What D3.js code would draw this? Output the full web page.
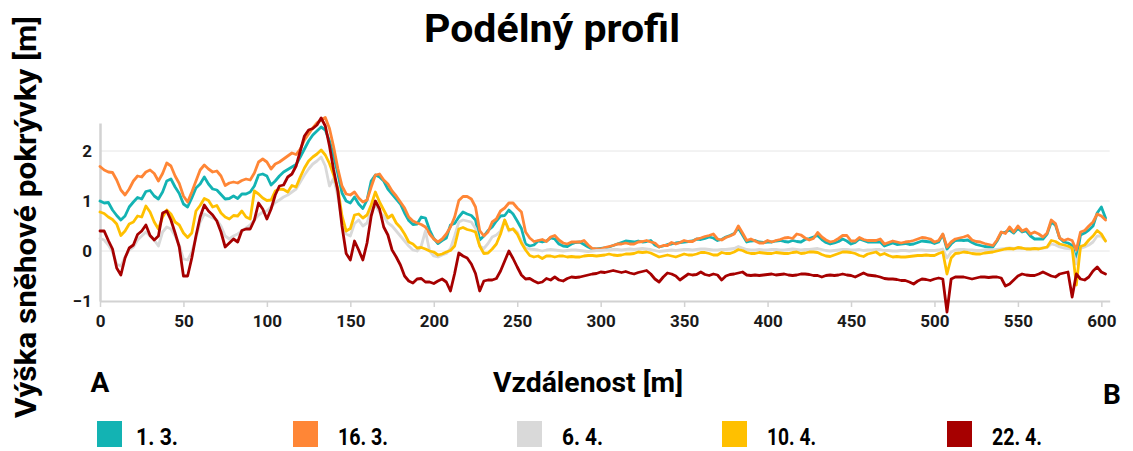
<!DOCTYPE html>
<html>
<head>
<meta charset="utf-8">
<script src="https://cdn.jsdelivr.net/npm/d3@7"></script>
<style>
  html, body { margin: 0; padding: 0; background: #fff; }
  svg { display: block; font-family: Roboto, "Noto Sans", "Liberation Sans", sans-serif; }
</style>
</head>
<body>
<svg id="chart" width="1133" height="451"></svg>
<script>
// Sampling step along the profile [m]
const STEP = 2.5;

// Snow depth [m] along the profile, one value every STEP metres (0 … 602.5 m)
const depth_01_03 = [
  1.00, 0.96, 0.97, 0.82, 0.71, 0.62, 0.70, 0.88, 0.98, 1.07,
  1.04, 1.19, 1.21, 1.10, 1.04, 1.18, 1.40, 1.44, 1.28, 1.15,
  0.94, 0.88, 1.06, 1.26, 1.34, 1.48, 1.34, 1.24, 1.22, 1.13,
  1.04, 1.05, 1.10, 1.05, 1.14, 1.14, 1.18, 1.30, 1.52, 1.54,
  1.50, 1.32, 1.40, 1.50, 1.58, 1.63, 1.68, 1.73, 1.88, 2.04,
  2.20, 2.32, 2.40, 2.48, 2.42, 2.20, 1.90, 1.55, 1.16, 1.00,
  0.96, 1.08, 0.94, 0.85, 1.02, 1.40, 1.52, 1.48, 1.40, 1.24,
  1.14, 1.04, 0.94, 0.76, 0.61, 0.53, 0.54, 0.68, 0.66, 0.42,
  0.25, 0.15, 0.21, 0.26, 0.52, 0.55, 0.68, 0.78, 0.74, 0.71,
  0.62, 0.22, 0.30, 0.41, 0.48, 0.60, 0.70, 0.71, 0.82, 0.74,
  0.60, 0.45, 0.14, 0.10, 0.12, 0.20, 0.18, 0.20, 0.26, 0.24,
  0.14, 0.10, 0.09, 0.14, 0.17, 0.18, 0.13, 0.08, 0.04, 0.04,
  0.05, 0.06, 0.08, 0.11, 0.14, 0.17, 0.20, 0.19, 0.18, 0.20,
  0.18, 0.19, 0.21, 0.12, 0.08, 0.10, 0.13, 0.14, 0.16, 0.17,
  0.18, 0.19, 0.20, 0.24, 0.23, 0.25, 0.28, 0.26, 0.21, 0.23,
  0.28, 0.31, 0.35, 0.46, 0.32, 0.18, 0.20, 0.21, 0.18, 0.17,
  0.18, 0.18, 0.20, 0.21, 0.19, 0.18, 0.21, 0.19, 0.18, 0.23,
  0.25, 0.28, 0.31, 0.23, 0.17, 0.14, 0.16, 0.19, 0.24, 0.20,
  0.14, 0.17, 0.24, 0.21, 0.18, 0.18, 0.18, 0.18, 0.10, 0.13,
  0.16, 0.13, 0.14, 0.15, 0.13, 0.14, 0.17, 0.20, 0.19, 0.18,
  0.15, 0.18, 0.33, 0.04, 0.14, 0.21, 0.22, 0.21, 0.22, 0.17,
  0.13, 0.11, 0.09, 0.08, 0.08, 0.20, 0.36, 0.38, 0.42, 0.36,
  0.45, 0.38, 0.40, 0.30, 0.24, 0.24, 0.24, 0.34, 0.58, 0.52,
  0.26, 0.18, 0.16, 0.11, -0.18, 0.32, 0.36, 0.42, 0.50, 0.76,
  0.88, 0.66
];

const depth_16_03 = [
  1.69, 1.62, 1.58, 1.57, 1.42, 1.22, 1.12, 1.24, 1.40, 1.50,
  1.48, 1.58, 1.62, 1.55, 1.40, 1.55, 1.76, 1.70, 1.50, 1.35,
  1.10, 0.98, 1.18, 1.40, 1.62, 1.72, 1.64, 1.58, 1.60, 1.50,
  1.31, 1.36, 1.38, 1.36, 1.41, 1.44, 1.42, 1.56, 1.78, 1.84,
  1.78, 1.64, 1.74, 1.78, 1.84, 1.90, 1.96, 1.93, 2.04, 2.22,
  2.34, 2.46, 2.56, 2.62, 2.67, 2.45, 2.08, 1.65, 1.30, 1.14,
  1.12, 1.18, 1.06, 0.98, 1.02, 1.28, 1.52, 1.54, 1.42, 1.34,
  1.20, 1.10, 0.98, 0.86, 0.68, 0.60, 0.56, 0.53, 0.48, 0.34,
  0.24, 0.18, 0.24, 0.34, 0.48, 0.68, 1.01, 1.09, 1.09, 1.04,
  0.88, 0.41, 0.30, 0.38, 0.58, 0.64, 0.80, 0.86, 0.96, 0.96,
  0.86, 0.78, 0.38, 0.26, 0.19, 0.21, 0.23, 0.19, 0.28, 0.31,
  0.22, 0.16, 0.14, 0.18, 0.18, 0.18, 0.21, 0.12, 0.05, 0.04,
  0.04, 0.07, 0.09, 0.11, 0.14, 0.14, 0.16, 0.14, 0.14, 0.18,
  0.19, 0.21, 0.18, 0.16, 0.08, 0.11, 0.11, 0.17, 0.14, 0.17,
  0.21, 0.19, 0.19, 0.24, 0.26, 0.29, 0.31, 0.34, 0.24, 0.22,
  0.27, 0.30, 0.34, 0.50, 0.36, 0.21, 0.24, 0.20, 0.16, 0.16,
  0.21, 0.18, 0.21, 0.23, 0.26, 0.27, 0.25, 0.34, 0.32, 0.26,
  0.22, 0.25, 0.37, 0.28, 0.22, 0.18, 0.20, 0.25, 0.31, 0.31,
  0.20, 0.20, 0.27, 0.23, 0.21, 0.21, 0.21, 0.24, 0.14, 0.17,
  0.20, 0.18, 0.16, 0.18, 0.19, 0.21, 0.24, 0.27, 0.26, 0.24,
  0.18, 0.21, 0.34, 0.08, 0.18, 0.24, 0.26, 0.28, 0.31, 0.22,
  0.19, 0.18, 0.15, 0.13, 0.11, 0.22, 0.38, 0.35, 0.48, 0.38,
  0.50, 0.40, 0.44, 0.34, 0.38, 0.34, 0.28, 0.36, 0.62, 0.55,
  0.26, 0.21, 0.24, 0.21, 0.02, 0.38, 0.41, 0.50, 0.58, 0.74,
  0.70, 0.62
];

const depth_06_04 = [
  0.25, 0.22, 0.12, -0.02, -0.26, -0.30, -0.12, 0.02, 0.08, 0.22,
  0.30, 0.38, 0.30, 0.22, 0.10, 0.38, 0.48, 0.44, 0.30, 0.12,
  -0.16, -0.18, -0.02, 0.26, 0.58, 0.74, 0.70, 0.66, 0.62, 0.50,
  0.30, 0.24, 0.30, 0.34, 0.40, 0.46, 0.52, 0.62, 0.72, 0.78,
  0.80, 0.88, 0.97, 1.02, 1.08, 1.12, 1.18, 1.24, 1.38, 1.52,
  1.64, 1.74, 1.80, 1.88, 1.70, 1.30, 1.45, 1.10, 0.60, 0.34,
  0.30, 0.55, 0.62, 0.50, 0.56, 0.82, 0.92, 0.78, 0.70, 0.56,
  0.50, 0.40, 0.30, 0.20, 0.10, 0.02, 0.00, 0.10, 0.40, 0.00,
  -0.10, -0.12, -0.08, -0.05, 0.05, 0.30, 0.58, 0.62, 0.60, 0.58,
  0.45, 0.10, 0.05, 0.15, 0.28, 0.32, 0.40, 0.62, 0.40, 0.45,
  0.38, 0.20, 0.06, 0.04, 0.03, 0.02, 0.00, 0.02, 0.03, 0.02,
  0.01, 0.00, 0.01, 0.02, 0.02, 0.01, 0.00, -0.01, 0.00, 0.01,
  0.01, 0.02, 0.02, 0.03, 0.03, 0.02, 0.03, 0.04, 0.03, 0.04,
  0.05, 0.04, 0.03, 0.01, -0.01, 0.00, 0.01, 0.02, 0.01, 0.02,
  0.03, 0.03, 0.02, 0.03, 0.04, 0.04, 0.03, 0.02, 0.02, 0.03,
  0.03, 0.04, 0.05, 0.09, 0.06, 0.03, 0.02, 0.02, 0.03, 0.02,
  0.02, 0.03, 0.03, 0.02, 0.02, 0.03, 0.04, 0.03, 0.02, 0.03,
  0.03, 0.04, 0.05, 0.03, 0.01, 0.00, 0.01, 0.02, 0.03, 0.03,
  0.02, 0.02, 0.03, 0.01, 0.02, 0.02, 0.03, 0.03, 0.01, 0.01,
  0.00, 0.00, 0.01, 0.01, 0.00, 0.01, 0.02, 0.02, 0.01, 0.01,
  0.01, 0.02, 0.04, -0.14, -0.02, 0.02, 0.03, 0.03, 0.02, 0.02,
  0.01, 0.01, 0.02, 0.02, 0.02, 0.03, 0.04, 0.05, 0.06, 0.05,
  0.06, 0.05, 0.05, 0.04, 0.05, 0.05, 0.06, 0.07, 0.14, 0.12,
  0.08, 0.06, 0.05, 0.04, -0.26, 0.05, 0.08, 0.12, 0.18, 0.30,
  0.30, 0.20
];

const depth_10_04 = [
  0.78, 0.75, 0.68, 0.63, 0.54, 0.31, 0.40, 0.54, 0.58, 0.70,
  0.68, 0.90, 0.78, 0.58, 0.44, 0.68, 0.82, 0.74, 0.58, 0.52,
  0.36, 0.27, 0.36, 0.80, 0.91, 1.05, 1.01, 0.88, 0.91, 0.76,
  0.68, 0.64, 0.71, 0.70, 0.80, 0.68, 0.64, 1.20, 1.14, 1.06,
  1.01, 1.02, 1.20, 1.24, 1.23, 1.18, 1.31, 1.28, 1.48, 1.66,
  1.80, 1.88, 1.94, 2.02, 1.92, 1.75, 1.52, 1.25, 0.70, 0.40,
  0.45, 0.72, 0.74, 0.66, 0.72, 0.92, 1.18, 0.98, 0.82, 0.66,
  0.72, 0.56, 0.47, 0.34, 0.18, 0.14, 0.06, 0.07, 0.04, 0.00,
  -0.02, -0.08, -0.06, -0.02, 0.01, 0.10, 0.44, 0.47, 0.43, 0.41,
  0.38, 0.10, -0.05, -0.04, 0.04, 0.14, 0.34, 0.62, 0.42, 0.44,
  0.34, 0.16, 0.02, -0.09, -0.12, -0.10, -0.15, -0.10, -0.10, -0.12,
  -0.10, -0.10, -0.12, -0.11, -0.12, -0.12, -0.10, -0.09, -0.09, -0.10,
  -0.09, -0.08, -0.06, -0.08, -0.09, -0.08, -0.06, -0.06, -0.05, -0.02,
  -0.03, -0.02, -0.04, -0.08, -0.12, -0.10, -0.08, -0.10, -0.12, -0.09,
  -0.06, -0.08, -0.08, -0.06, -0.03, -0.03, -0.05, -0.08, -0.08, -0.03,
  -0.05, -0.05, -0.02, 0.03, 0.01, -0.03, -0.05, -0.05, -0.03, -0.04,
  -0.05, -0.05, -0.03, -0.04, -0.05, -0.05, -0.03, -0.02, -0.05, -0.04,
  -0.02, -0.02, -0.03, -0.07, -0.10, -0.11, -0.08, -0.05, -0.02, -0.02,
  -0.03, -0.05, -0.09, -0.11, -0.06, -0.04, -0.02, -0.08, -0.05, -0.09,
  -0.12, -0.11, -0.12, -0.12, -0.11, -0.10, -0.09, -0.09, -0.08, -0.09,
  -0.09, -0.05, -0.02, -0.46, -0.14, -0.05, -0.04, -0.02, -0.03, -0.05,
  -0.06, -0.06, -0.04, -0.03, -0.02, 0.00, 0.02, 0.04, 0.05, 0.04,
  0.07, 0.06, 0.04, 0.04, 0.05, 0.04, 0.06, 0.08, 0.21, 0.19,
  0.14, 0.12, 0.10, 0.06, -0.68, 0.09, 0.12, 0.22, 0.30, 0.41,
  0.34, 0.20
];

const depth_22_04 = [
  0.40, 0.40, 0.21, 0.04, -0.34, -0.48, -0.14, 0.06, 0.12, 0.33,
  0.40, 0.52, 0.31, 0.22, 0.30, 0.76, 0.80, 0.62, 0.36, 0.08,
  -0.50, -0.50, -0.14, 0.30, 0.68, 0.92, 0.80, 0.72, 0.60, 0.38,
  0.08, 0.16, 0.24, 0.18, 0.41, 0.44, 0.44, 0.62, 0.96, 0.84,
  0.64, 0.84, 1.12, 1.30, 1.32, 1.48, 1.54, 1.70, 2.00, 2.30,
  2.42, 2.45, 2.52, 2.66, 2.50, 2.10, 1.62, 1.20, 0.50, -0.05,
  -0.18, 0.20, 0.02, -0.18, 0.16, 0.70, 1.00, 0.84, 0.48, 0.32,
  0.02, -0.12, -0.28, -0.50, -0.60, -0.64, -0.56, -0.55, -0.62, -0.62,
  -0.65, -0.60, -0.56, -0.62, -0.80, -0.45, -0.04, -0.10, -0.14, -0.26,
  -0.45, -0.80, -0.60, -0.58, -0.58, -0.55, -0.40, -0.20, 0.00, -0.15,
  -0.32, -0.48, -0.56, -0.55, -0.60, -0.64, -0.62, -0.55, -0.58, -0.52,
  -0.58, -0.60, -0.55, -0.52, -0.53, -0.52, -0.50, -0.48, -0.46, -0.45,
  -0.42, -0.43, -0.41, -0.39, -0.41, -0.43, -0.41, -0.44, -0.46, -0.43,
  -0.41, -0.39, -0.46, -0.56, -0.62, -0.52, -0.44, -0.46, -0.50, -0.58,
  -0.52, -0.46, -0.48, -0.47, -0.42, -0.47, -0.49, -0.46, -0.48, -0.58,
  -0.50, -0.47, -0.46, -0.44, -0.42, -0.48, -0.49, -0.48, -0.49, -0.48,
  -0.47, -0.46, -0.48, -0.47, -0.46, -0.48, -0.49, -0.48, -0.46, -0.46,
  -0.47, -0.49, -0.49, -0.52, -0.49, -0.48, -0.49, -0.48, -0.46, -0.48,
  -0.49, -0.52, -0.48, -0.44, -0.48, -0.49, -0.50, -0.52, -0.55, -0.56,
  -0.56, -0.57, -0.59, -0.59, -0.62, -0.66, -0.60, -0.56, -0.57, -0.59,
  -0.56, -0.54, -0.56, -1.22, -0.56, -0.52, -0.52, -0.52, -0.54, -0.56,
  -0.54, -0.52, -0.52, -0.53, -0.52, -0.52, -0.54, -0.70, -0.66, -0.58,
  -0.50, -0.46, -0.48, -0.49, -0.49, -0.46, -0.42, -0.46, -0.50, -0.52,
  -0.46, -0.44, -0.42, -0.92, -0.46, -0.56, -0.58, -0.52, -0.40, -0.32,
  -0.42, -0.46
];

// Survey dates (legend labels) and line colours, in drawing order
const dates  = ["1. 3.", "16. 3.", "6. 4.", "10. 4.", "22. 4."];
const colors = ["#13b3b3", "#ff8636", "#d9d9d9", "#ffc000", "#a60000"];
const seriesValues = [depth_01_03, depth_16_03, depth_06_04, depth_10_04, depth_22_04];

// Axis ticks
const xTickValues = [0, 50, 100, 150, 200, 250, 300, 350, 400, 450, 500, 550, 600];
const yTickValues = [-1, 0, 1, 2];

// Texts
const titleText  = "Podélný profil";
const xTitleText = "Vzdálenost [m]";
const yTitleText = "Výška sněhové pokrývky [m]";
const startLabel = "A";
const endLabel   = "B";

const svg = d3.select("#chart");

const x = d3.scaleLinear().domain([0, 605]).range([100, 1109.7]);
const y = d3.scaleLinear().domain([-1, 2.56]).range([301, 123]);

// horizontal grid
svg.append("g")
  .selectAll("line")
  .data(yTickValues.filter(d => d > -1))
  .join("line")
  .attr("x1", x(0)).attr("x2", x(605))
  .attr("y1", d => y(d)).attr("y2", d => y(d))
  .attr("stroke", "#e6e6e6").attr("stroke-width", 1);

// x axis
const gx = svg.append("g")
  .attr("transform", `translate(0,${y(-1)})`)
  .call(d3.axisBottom(x).tickValues(xTickValues).tickSize(6).tickSizeOuter(0).tickPadding(8).tickFormat(d3.format("d")));
gx.select(".domain").attr("stroke", "#d2d2d2").attr("stroke-width", 2);
gx.selectAll(".tick line").attr("stroke", "#d2d2d2").attr("stroke-width", 1.5);
gx.selectAll(".tick text")
  .attr("fill", "#1a1a1a")
  .style("font-size", "17px").style("font-weight", "700")
  .style("font-family", "Roboto, sans-serif");

// y axis
const gy = svg.append("g")
  .attr("transform", `translate(${x(0)},0)`)
  .call(d3.axisLeft(y).tickValues(yTickValues).tickSize(0).tickSizeOuter(0).tickPadding(8).tickFormat(d3.format("d")));
gy.select(".domain").attr("stroke", "#d2d2d2").attr("stroke-width", 2.5);
gy.selectAll(".tick text")
  .attr("fill", "#1a1a1a")
  .style("font-size", "17px").style("font-weight", "700")
  .style("font-family", "Roboto, sans-serif");

// profile lines
const line = d3.line()
  .x((d, i) => x(i * STEP))
  .y(d => y(d));

svg.append("g")
  .selectAll("path")
  .data(seriesValues)
  .join("path")
  .attr("d", d => line(d))
  .attr("fill", "none")
  .attr("stroke", (d, i) => colors[i])
  .attr("stroke-width", 2.8)
  .attr("stroke-linejoin", "round")
  .attr("stroke-linecap", "round");

// titles
const bold = sel => sel.attr("font-weight", 700).attr("fill", "#000")
  .style("font-family", "Roboto, 'Liberation Sans', sans-serif");

svg.append("text").text(titleText)
  .attr("x", 552).attr("y", 42).attr("text-anchor", "middle")
  .attr("font-size", 38).attr("textLength", 256).attr("lengthAdjust", "spacingAndGlyphs")
  .call(bold);

svg.append("text").text(yTitleText)
  .attr("transform", "translate(36,217) rotate(-90)")
  .attr("text-anchor", "middle")
  .attr("font-size", 29).attr("textLength", 402).attr("lengthAdjust", "spacingAndGlyphs")
  .call(bold);

svg.append("text").text(xTitleText)
  .attr("x", 588).attr("y", 392).attr("text-anchor", "middle")
  .attr("font-size", 28).attr("textLength", 190).attr("lengthAdjust", "spacingAndGlyphs")
  .call(bold);

svg.append("text").text(startLabel)
  .attr("x", 100).attr("y", 392).attr("text-anchor", "middle")
  .attr("font-size", 28).call(bold);

svg.append("text").text(endLabel)
  .attr("x", 1112).attr("y", 404).attr("text-anchor", "middle")
  .attr("font-size", 28).call(bold);

// legend
const legendX = [97, 293, 517, 722, 947];
const legendLabelW = [42, 50, 41, 49, 50];
const lg = svg.append("g")
  .selectAll("g")
  .data(dates)
  .join("g")
  .attr("transform", (d, i) => `translate(${legendX[i]},421)`);
lg.append("rect")
  .attr("width", 25).attr("height", 26)
  .attr("fill", (d, i) => colors[i]);
lg.append("text")
  .text(d => d)
  .attr("x", (d, i) => i === 0 ? 39 : 45)
  .attr("y", 24)
  .attr("font-size", 23)
  .attr("textLength", (d, i) => legendLabelW[i])
  .attr("lengthAdjust", "spacingAndGlyphs")
  .call(bold);
</script>
</body>
</html>
